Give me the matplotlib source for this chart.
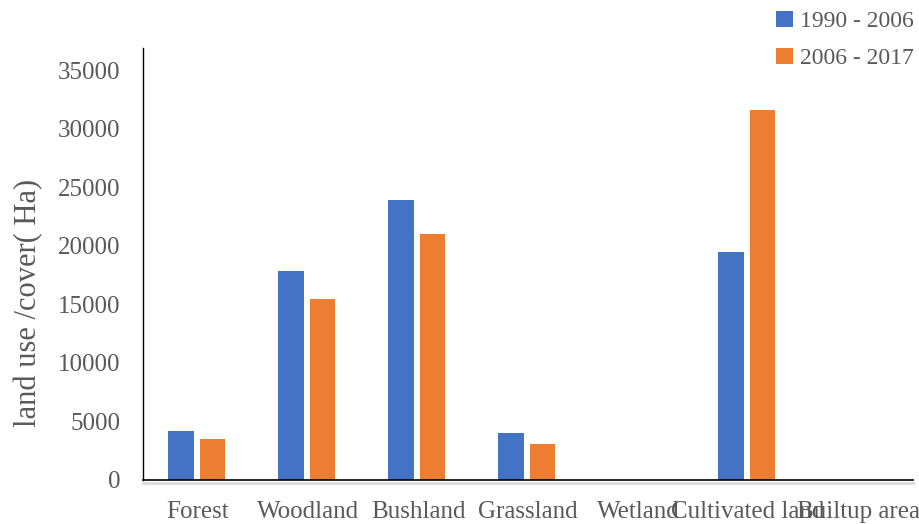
import matplotlib
matplotlib.use('agg')
import matplotlib.pyplot as plt
import matplotlib.transforms as mtransforms
import numpy as np

plt.rcParams['font.family'] = ['Liberation Serif', 'DejaVu Serif']

categories = ['Forest', 'Woodland', 'Bushland', 'Grassland', 'Wetland',
              'Cultivated land', 'Builtup area']
change_1990_2006 = [4200, 17900, 23900, 4000, 0, 19500, 0]
change_2006_2017 = [3500, 15500, 21000, 3100, 0, 31600, 0]
series_labels = ['1990 - 2006', '2006 - 2017']
yticks = [0, 5000, 10000, 15000, 20000, 25000, 30000, 35000]

blue = '#4472C4'
orange = '#ED7D31'
grey = '#595959'

fig = plt.figure(figsize=(9.2, 5.24), dpi=100)
ax = fig.add_axes([0.1554, 0.084, 0.8370, 0.824])

x = np.arange(len(categories))
w = 0.23
ax.bar(x - 0.155, change_1990_2006, width=w, color=blue, label=series_labels[0])
ax.bar(x + 0.13, change_2006_2017, width=w, color=orange, label=series_labels[1])

ax.set_xlim(-0.5, len(categories) - 0.5)
ax.set_ylim(0, 36900)
ax.set_yticks(yticks)
ax.set_yticklabels([str(v) for v in yticks])
ax.set_xticks(x)
ax.set_xticklabels(categories)
ax.tick_params(axis='both', length=0, labelsize=18, labelcolor=grey)
ax.tick_params(axis='y', pad=16.5)
ax.tick_params(axis='x', pad=15)

for side in ['top', 'right']:
    ax.spines[side].set_visible(False)
ax.spines['left'].set_color('black')
ax.spines['bottom'].set_color('black')
ax.spines['left'].set_linewidth(1.0)
ax.spines['bottom'].set_linewidth(1.2)

# faint shadow under the category axis
shadow = mtransforms.offset_copy(ax.transData, fig=fig, x=0, y=-3, units='dots')
ax.plot([-0.5, len(categories) - 0.5], [0, 0], color='#dcdcdc', lw=2,
        transform=shadow, clip_on=False, zorder=0)

ax.set_ylabel('land use /cover( Ha)', fontsize=22, color=grey)
ax.yaxis.set_label_coords(-0.129, 0.41)

fig.legend(loc='upper right', bbox_to_anchor=(1.016, 1.02), frameon=False,
           fontsize=17, labelcolor=grey, handlelength=0.7, handleheight=0.7,
           handletextpad=0.3, labelspacing=0.65)

fig.savefig('out.png', dpi=100)
